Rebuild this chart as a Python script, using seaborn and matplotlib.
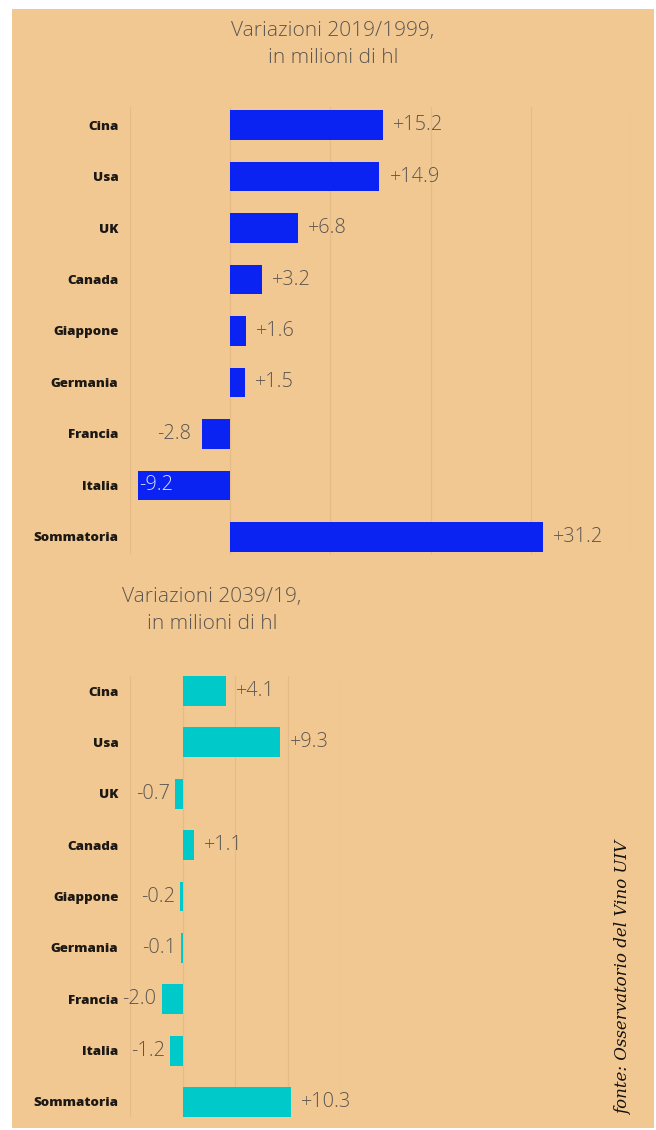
import matplotlib
matplotlib.use("Agg")
import matplotlib.pyplot as plt
import seaborn as sns
from matplotlib.patches import Rectangle

# data
paesi = ["Cina", "Usa", "UK", "Canada", "Giappone", "Germania", "Francia", "Italia", "Sommatoria"]
var_2019_1999 = [15.2, 14.9, 6.8, 3.2, 1.6, 1.5, -2.8, -9.2, 31.2]
var_2039_2019 = [4.1, 9.3, -0.7, 1.1, -0.2, -0.1, -2.0, -1.2, 10.3]
titolo_1 = "Variazioni 2019/1999,\nin milioni di hl"
titolo_2 = "Variazioni 2039/19,\nin milioni di hl"
fonte = "fonte: Osservatorio del Vino UIV"

sns.set_style("white")
plt.rcParams["font.family"] = ["Open Sans", "DejaVu Sans"]

W, H = 656, 1130
PEACH = "#f2c892"
GRID = "#e5bb87"
TXT = "#5a5550"
VSIZE = 14.3

fig = plt.figure(figsize=(W / 100, H / 100), dpi=100, facecolor="white")
fig.patches.append(Rectangle((12 / W, 2 / H), 642 / W, 1119 / H,
                             transform=fig.transFigure, facecolor=PEACH,
                             edgecolor="none", zorder=-10))


def panel(ax, values, color, xticks, gap_pos, gap_neg):
    sns.barplot(x=values, y=paesi, orient="h", color=color, width=0.58,
                saturation=1, ax=ax, zorder=3, edgecolor=color, linewidth=0)
    ax.set_facecolor("none")
    ax.set_xlim(xticks[0], xticks[-1])
    ax.set_xticks(xticks)
    ax.set_xticklabels([])
    ax.grid(axis="x", color=GRID, linewidth=0.9, zorder=0)
    ax.grid(axis="y", visible=False)
    for s in ax.spines.values():
        s.set_visible(False)
    ax.tick_params(axis="both", length=0)
    ax.tick_params(axis="y", pad=8.4)
    for lab in ax.get_yticklabels():
        lab.set_fontweight("heavy")
        lab.set_fontsize(9.6)
        lab.set_color("#1c1814")
    ax.set_xlabel("")
    ax.set_ylabel("")
    xmin = xticks[0]
    px_unit = ax.get_position().width * W / (xticks[-1] - xticks[0])
    for i, v in enumerate(values):
        txt = f"{v:+.1f}"
        if v >= 0:
            ax.annotate(txt, (v, i), xytext=(gap_pos * 0.72, 0), textcoords="offset points",
                        ha="left", va="center", fontsize=VSIZE, color=TXT, fontweight="light")
        elif v - gap_neg / px_unit < xmin:
            ax.annotate(txt, (v, i), xytext=(1.0, 0), textcoords="offset points",
                        ha="left", va="center", fontsize=VSIZE, color="#dcdcff",
                        fontweight="light", zorder=5)
        else:
            ax.annotate(txt, (v, i), xytext=(-gap_neg * 0.72, 0), textcoords="offset points",
                        ha="right", va="center", fontsize=VSIZE, color=TXT, fontweight="light")


# top panel
ax1 = fig.add_axes([130 / W, 1 - 555 / H, 501 / W, 448 / H])
panel(ax1, var_2019_1999, "#0a22f2", list(range(-10, 41, 10)), 10, 11)
ax1.set_ylim(8.35, -0.35)

# bottom panel
ax2 = fig.add_axes([130 / W, 1 - 1117.4 / H, 210 / W, 441.8 / H])
panel(ax2, var_2039_2019, "#00c9c9", list(range(-5, 16, 5)), 10, 5)
ax2.set_ylim(8.3, -0.3)

fig.text(333 / W, 1 - 44.5 / H, titolo_1, ha="center", va="center", fontsize=15,
         color=TXT, fontweight="light", linespacing=1.5)
fig.text(212 / W, 1 - 610.5 / H, titolo_2, ha="center", va="center", fontsize=15,
         color=TXT, fontweight="light", linespacing=1.5)
fig.text(624 / W, 1 - 978 / H, fonte, rotation=90, ha="center", va="center",
         fontsize=12, style="italic", family="DejaVu Serif", color="#111111")

fig.savefig("out.png", dpi=100, facecolor="white")
